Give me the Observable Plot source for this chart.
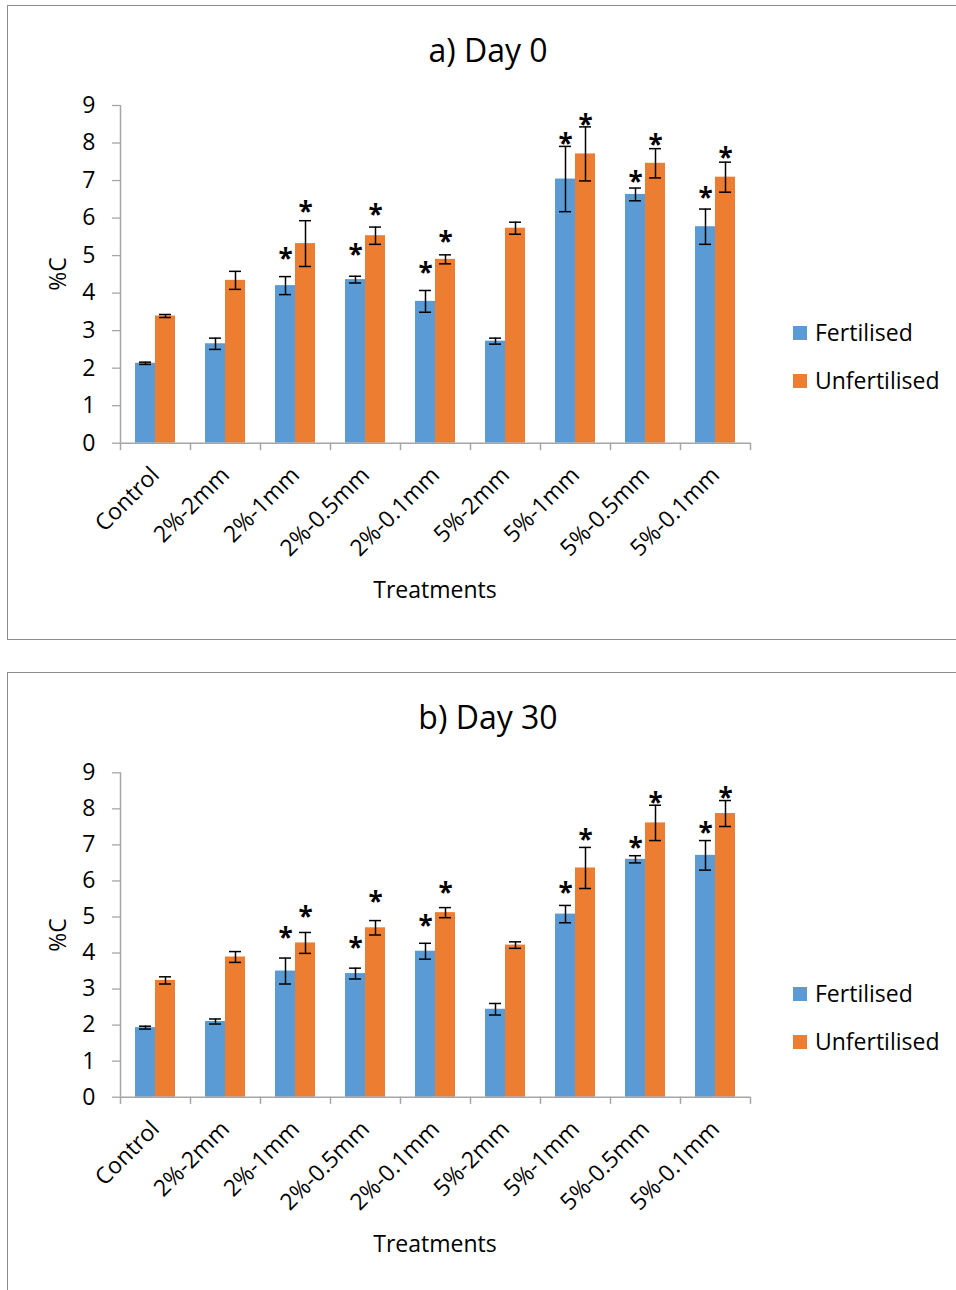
<!DOCTYPE html>
<html>
<head>
<meta charset="utf-8">
<script src="https://cdn.jsdelivr.net/npm/d3@7"></script>
<script src="https://cdn.jsdelivr.net/npm/@observablehq/plot@0.6"></script>
<style>
  html, body { margin: 0; padding: 0; background: #fff; }
  body { width: 956px; height: 1290px; position: relative; overflow: hidden; font-family: "Open Sans", sans-serif; color: #000; }
  .panel { position: absolute; border: 1px solid #8c8c8c; box-sizing: border-box; }
  .abs { position: absolute; white-space: nowrap; }
  .title { font-size: 32px; transform: translateX(-50%); line-height: 1; }
  .xlabel { font-size: 23px; transform: translateX(-50%); line-height: 1; }
  .ylabel { font-size: 23px; line-height: 1; transform: translate(-50%, -50%) rotate(-90deg); }
  .leg { font-size: 23px; line-height: 1; display: flex; align-items: center; }
  .sw { width: 14px; height: 14px; margin-right: 8px; display: inline-block; }
  svg { position: absolute; left: 0; overflow: visible; }
</style>
</head>
<body>
<div class="panel" style="left:7px; top:5px; width:1000px; height:635px;"></div>
<div class="panel" style="left:7px; top:672px; width:1000px; height:700px;"></div>
<div id="root"></div>
<script>
// ---- data ----
const categories = ["Control", "2%-2mm", "2%-1mm", "2%-0.5mm", "2%-0.1mm", "5%-2mm", "5%-1mm", "5%-0.5mm", "5%-0.1mm"];
const seriesNames = ["Fertilised", "Unfertilised"];
const seriesColors = ["#5B9BD5", "#ED7D31"];
const yTicks = [0, 1, 2, 3, 4, 5, 6, 7, 8, 9];

const day0Fert      = [2.13, 2.65, 4.20, 4.36, 3.78, 2.72, 7.04, 6.63, 5.77];
const day0FertErr   = [0.03, 0.15, 0.24, 0.09, 0.29, 0.08, 0.87, 0.17, 0.47];
const day0Unfert    = [3.39, 4.34, 5.32, 5.53, 4.90, 5.73, 7.71, 7.46, 7.09];
const day0UnfertErr = [0.04, 0.24, 0.61, 0.23, 0.12, 0.16, 0.72, 0.39, 0.40];
const day0FertStar   = [null, null, 5.02, 5.14, 4.65, null, 8.09, 7.07, 6.65];
const day0UnfertStar = [null, null, 6.29, 6.19, 5.49, null, 8.59, 8.05, 7.72];

const day30Fert      = [1.93, 2.10, 3.50, 3.43, 4.05, 2.44, 5.08, 6.60, 6.71];
const day30FertErr   = [0.04, 0.07, 0.36, 0.15, 0.22, 0.16, 0.24, 0.10, 0.41];
const day30Unfert    = [3.24, 3.89, 4.28, 4.70, 5.12, 4.22, 6.36, 7.61, 7.87];
const day30UnfertErr = [0.10, 0.15, 0.29, 0.20, 0.14, 0.09, 0.57, 0.49, 0.36];
const day30FertStar   = [null, null, 4.53, 4.26, 4.88, null, 5.78, 7.03, 7.45];
const day30UnfertStar = [null, null, 5.13, 5.53, 5.78, null, 7.26, 8.28, 8.42];

const panels = [
  {title: "a) Day 0", fert: day0Fert, fertErr: day0FertErr, unfert: day0Unfert, unfertErr: day0UnfertErr,
   fertStar: day0FertStar, unfertStar: day0UnfertStar,
   svgTop: 80, mTop: 25, plotH: 337.7, mBottom: 137.3, titleTop: 34, xlabTop: 578, ylabY: 274, legTop: 321},
  {title: "b) Day 30", fert: day30Fert, fertErr: day30FertErr, unfert: day30Unfert, unfertErr: day30UnfertErr,
   fertStar: day30FertStar, unfertStar: day30UnfertStar,
   svgTop: 747, mTop: 25.3, plotH: 324.4, mBottom: 130.3, titleTop: 701, xlabTop: 1232, ylabY: 935, legTop: 982}
];

const root = document.getElementById("root");
const grey = "#a6a6a6";

for (const p of panels) {
  const rows = [];
  categories.forEach((c, i) => {
    rows.push({cat: c, series: seriesNames[0], value: p.fert[i], err: p.fertErr[i], star: p.fertStar[i]});
    rows.push({cat: c, series: seriesNames[1], value: p.unfert[i], err: p.unfertErr[i], star: p.unfertStar[i]});
  });
  const F = rows.filter(d => d.series === seriesNames[0]);
  const U = rows.filter(d => d.series === seriesNames[1]);
  const off = {[seriesNames[0]]: -10, [seriesNames[1]]: 10};

  const errMarks = (data, dx) => [
    Plot.ruleX(data, {x: "cat", y1: d => d.value - d.err, y2: d => d.value + d.err, dx, stroke: "#000", strokeWidth: 1.5}),
    Plot.tickY(data, {x: "cat", y: d => d.value + d.err, dx, insetLeft: 29, insetRight: 29, stroke: "#000", strokeWidth: 1.5}),
    Plot.tickY(data, {x: "cat", y: d => d.value - d.err, dx, insetLeft: 29, insetRight: 29, stroke: "#000", strokeWidth: 1.5}),
    Plot.text(data.filter(d => d.star != null), {x: "cat", y: "star", text: () => "*", dx, dy: 5, fontSize: 26, fontWeight: "bold", fill: "#000"})
  ];

  const chart = Plot.plot({
    width: 760,
    height: p.mTop + p.plotH + p.mBottom,
    marginLeft: 120,
    marginRight: 10,
    marginTop: p.mTop,
    marginBottom: p.mBottom,
    style: {fontFamily: "Open Sans", fontSize: "23px", color: "#000", background: "transparent", overflow: "visible"},
    x: {domain: categories, padding: 0, label: null},
    y: {domain: [0, 9], label: null},
    color: {domain: seriesNames, range: seriesColors},
    marks: [
      Plot.axisY({ticks: yTicks, tickSize: 8, tickPadding: 17, stroke: grey, strokeWidth: 1.3, fill: "#000", label: null, tickFormat: d3.format("d")}),
      Plot.axisX({tickRotate: -45, tickSize: 0, tickPadding: 14, dy: 14, fill: "#000", label: null}),
      Plot.barY(F, {x: "cat", y: "value", fill: "series", insetLeft: 15, insetRight: 35}),
      Plot.barY(U, {x: "cat", y: "value", fill: "series", insetLeft: 35, insetRight: 15}),
      Plot.ruleX([categories[0]], {x: d => d, y1: 0, y2: 9, dx: -35, stroke: grey, strokeWidth: 1.5}),
      Plot.ruleX(categories, {x: d => d, y1: 0, y2: -0.2, dx: -35, stroke: grey, strokeWidth: 1.5}),
      Plot.ruleX([categories[categories.length - 1]], {x: d => d, y1: 0, y2: -0.2, dx: 35, stroke: grey, strokeWidth: 1.5}),
      Plot.ruleY([0], {stroke: grey, strokeWidth: 1.5}),
      ...errMarks(F, off[seriesNames[0]]),
      ...errMarks(U, off[seriesNames[1]])
    ]
  });
  chart.style.top = p.svgTop + "px";
  root.appendChild(chart);

  const t = document.createElement("div");
  t.className = "abs title"; t.textContent = p.title;
  t.style.left = "488px"; t.style.top = p.titleTop + "px";
  root.appendChild(t);

  const xl = document.createElement("div");
  xl.className = "abs xlabel"; xl.textContent = "Treatments";
  xl.style.left = "435px"; xl.style.top = p.xlabTop + "px";
  root.appendChild(xl);

  const yl = document.createElement("div");
  yl.className = "abs ylabel"; yl.textContent = "%C";
  yl.style.left = "57px"; yl.style.top = p.ylabY + "px";
  root.appendChild(yl);

  seriesNames.forEach((s, i) => {
    const lg = document.createElement("div");
    lg.className = "abs leg";
    lg.style.left = "793px"; lg.style.top = (p.legTop + i * 48) + "px";
    lg.innerHTML = `<span class="sw" style="background:${seriesColors[i]}"></span><span>${s}</span>`;
    root.appendChild(lg);
  });
}
</script>
</body>
</html>
